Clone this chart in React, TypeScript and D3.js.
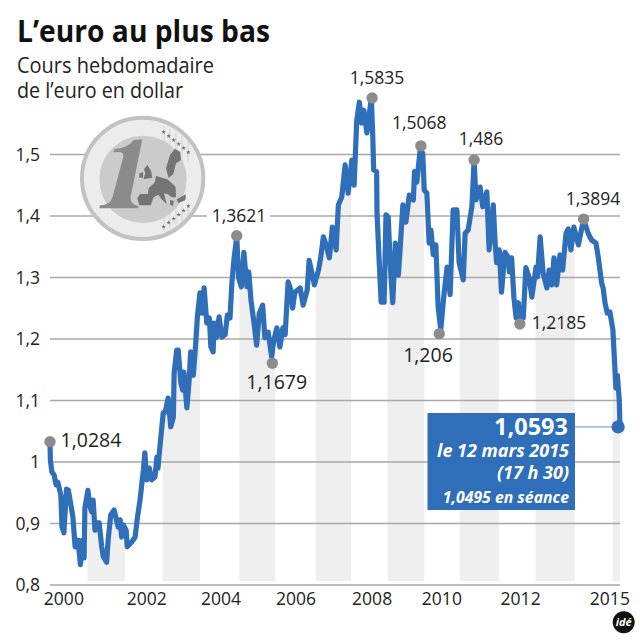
import React from "react";
import * as d3 from "d3";

const yearsAt = [2000.00,2000.01,2000.05,2000.11,2000.16,2000.21,2000.27,2000.29,2000.32,2000.37,2000.44,2000.49,2000.61,2000.67,2000.75,2000.81,2000.87,2000.91,2000.93,2001.01,2001.07,2001.11,2001.15,2001.20,2001.25,2001.31,2001.38,2001.42,2001.51,2001.55,2001.62,2001.71,2001.76,2001.82,2001.87,2001.91,2001.95,2002.03,2002.06,2002.18,2002.27,2002.33,2002.40,2002.49,2002.53,2002.58,2002.65,2002.71,2002.80,2002.85,2002.88,2002.93,
2003.02,2003.07,2003.15,2003.22,2003.29,2003.31,2003.38,2003.42,2003.49,2003.54,2003.57,2003.65,2003.71,2003.75,2003.82,2003.87,2003.93,2004.00,2004.05,2004.11,2004.18,2004.25,2004.29,2004.35,2004.37,2004.43,2004.51,2004.58,2004.67,2004.73,2004.80,2004.85,2004.91,2004.98,
2005.03,2005.10,2005.17,2005.25,2005.30,2005.36,2005.44,2005.51,2005.58,2005.67,2005.73,2005.82,2005.91,2005.97,2006.05,2006.13,2006.21,2006.27,2006.35,2006.42,2006.47,2006.53,2006.67,2006.75,2006.86,2006.91,2006.98,
2007.05,2007.16,2007.22,2007.29,2007.36,2007.45,2007.53,2007.63,2007.69,2007.78,2007.87,2007.95,2008.05,2008.11,2008.18,2008.25,2008.31,2008.37,2008.45,2008.57,2008.61,2008.63,2008.71,2008.72,2008.78,2008.83,2008.91,2008.96,
2009.02,2009.07,2009.14,2009.21,2009.29,2009.33,2009.41,2009.49,2009.58,2009.69,2009.72,2009.78,2009.87,2009.94,2009.98,2010.05,2010.11,2010.16,2010.22,2010.29,2010.35,2010.42,2010.51,2010.59,2010.67,2010.75,2010.85,2010.91,
2011.02,2011.07,2011.15,2011.25,2011.31,2011.36,2011.47,2011.54,2011.65,2011.71,2011.82,2011.87,2011.91,2011.98,2012.04,2012.13,2012.22,2012.25,2012.31,2012.37,2012.43,2012.49,2012.53,2012.62,2012.69,2012.78,2012.85,2012.96,
2013.00,2013.07,2013.15,2013.25,2013.31,2013.38,2013.44,2013.51,2013.60,2013.67,2013.76,2013.82,2013.89,2013.97,2014.09,2014.18,2014.24,2014.35,2014.44,2014.56,2014.62,2014.71,2014.75,2014.80,2014.86,2014.93,2015.01,2015.07,2015.09,2015.13,2015.18,2015.20];

const rates = [1.0325,1.003,.984,.979,.963,.967,.951,.945,.894,.885,.956,.954,.911,.862,.873,.833,.873,.844,.925,.954,.927,.919,.938,.889,.901,.901,.862,.846,.837,.873,.914,.922,.909,.894,.906,.878,.898,.889,.862,.870,.878,.909,.938,.987,1.015,.971,.990,.971,.976,1.008,.990,1.024,
1.080,1.081,1.104,1.057,1.073,1.145,1.182,1.182,1.128,1.117,1.146,1.088,1.133,1.179,1.141,1.179,1.236,1.275,1.242,1.283,1.226,1.234,1.187,1.179,1.226,1.202,1.236,1.203,1.207,1.239,1.234,1.291,1.332,1.366,
1.299,1.285,1.341,1.285,1.309,1.263,1.226,1.190,1.242,1.255,1.202,1.211,1.171,1.198,1.218,1.187,1.218,1.207,1.293,1.280,1.250,1.276,1.283,1.255,1.280,1.328,1.309,
1.288,1.312,1.333,1.366,1.353,1.332,1.382,1.345,1.418,1.431,1.483,1.437,1.491,1.450,1.556,1.585,1.551,1.572,1.535,1.592,1.524,1.475,1.472,1.405,1.324,1.260,1.260,1.402,
1.398,1.324,1.259,1.356,1.304,1.340,1.418,1.390,1.434,1.426,1.472,1.455,1.507,1.502,1.442,1.437,1.356,1.377,1.337,1.353,1.252,1.215,1.275,1.317,1.272,1.410,1.410,1.324,
1.296,1.372,1.377,1.415,1.491,1.426,1.447,1.415,1.439,1.345,1.418,1.356,1.324,1.345,1.276,1.341,1.333,1.309,1.332,1.268,1.234,1.259,1.231,1.234,1.316,1.299,1.268,1.317,
1.301,1.366,1.307,1.283,1.312,1.288,1.332,1.288,1.337,1.312,1.372,1.379,1.345,1.382,1.353,1.380,1.393,1.372,1.361,1.356,1.333,1.291,1.283,1.259,1.242,1.244,1.215,1.145,1.120,1.141,1.101,1.057];

const bandStarts = [2001.0,2003.0,2005.05,2007.09,2009.0,2010.93,2012.95,2015.0];
const bandEnds = [2002.0,2004.0,2006.0,2008.03,2009.98,2011.97,2013.99,2015.2];

const gridValues = [0.8,0.9,1,1.1,1.2,1.3,1.4,1.5];
const gridLabels = ["0,8","0,9","1","1,1","1,2","1,3","1,4","1,5"];
const xTickAt = [2000.37,2002.58,2004.56,2006.56,2008.59,2010.45,2012.55,2014.93];
const xTickLabels = ["2000","2002","2004","2006","2008","2010","2012","2015"];

const dotYears = [2000.0,2004.98,2005.93,2008.59,2009.89,2010.38,2011.31,2012.53,2014.23];
const dotRates = [1.033,1.368,1.1605,1.592,1.514,1.2086,1.491,1.2244,1.395];
const calloutTexts = ["1,0284","1,3621","1,1679","1,5835","1,5068","1,206","1,486","1,2185","1,3894"];

const ff = "'Open Sans', sans-serif";
const width = 640;
const height = 640;

const x = d3.scaleLinear().domain([2000, 2015.2]).range([50, 620]);
const y = d3.scaleLinear().domain([0.8, 1.5]).range([585, 154.5]);

const pts = yearsAt.map((t, i) => [t, rates[i]] as [number, number]);
const linePath = d3.line<[number, number]>().x((d) => x(d[0])).y((d) => y(d[1]))(pts) as string;
const areaPath = d3
  .area<[number, number]>()
  .x((d) => x(d[0]))
  .y0(585)
  .y1((d) => y(d[1]))(pts) as string;

// label layout: [centre x, centre y, size]
const calloutLayout: [number, number, number][] = [
  [91, 440, 19.5],
  [239, 215.7, 17.5],
  [276.7, 381.7, 19.5],
  [377, 78, 17.5],
  [419.3, 122.7, 17.5],
  [428, 355, 19.5],
  [481, 139, 17.5],
  [559, 322.7, 17.5],
  [593, 199, 17.5],
];

const stars: [number, number][] = [
  [311, 96],[326, 108],[341, 120],[356, 132],[371, 144],[385, 157],
  [311, 380],[326, 368],[341, 356],[356, 344],[371, 332],[385, 318],
];

function Coin() {
  const star = d3.symbol().type(d3.symbolStar).size(55)() as string;
  return (
    <g transform="translate(60,100) scale(0.3333)">
      <circle cx={248} cy={235} r={182} fill="#ececec" stroke="#c2c2c2" strokeWidth={12} />
      <circle cx={249} cy={238} r={131} fill="#cbcbcb" />
      <g stroke="#cacaca" strokeWidth={2.5}>
        {[312, 330, 348, 366, 384].map((v) => (
          <g key={v}>
            <line x1={v} x2={v} y1={78 + (v - 312) * 0.55} y2={150 + (v - 312) * 0.5} />
            <line x1={v} x2={v} y1={325 - (v - 312) * 0.1} y2={396 - (v - 312) * 0.55} />
          </g>
        ))}
      </g>
      <path
        d="M247,118 L212,290 Q208,312 236,318 L234,325 L118,325 L120,316 Q150,316 158,290 L190,170 Q192,156 176,156 L160,157 L163,147 Q200,146 222,120 Z"
        fill="#8b8b8b"
      />
      <g fill="#747474">
        <path d="M345,146 L361,156 L363,180 L348,190 L340,222 L326,234 L318,205 L330,165 Z" />
        <path d="M288,228 L322,238 L347,260 L348,292 L336,292 L322,282 L312,280 L320,312 L304,297 L295,284 L281,292 L272,316 L238,316 L232,295 L240,282 L264,282 L266,264 L284,248 Z" />
        <path d="M262,195 L273,212 L277,233 L250,238 L256,220 L252,208 Z" />
        <path d="M238,220 L250,217 L249,233 L238,233 Z" />
        <path d="M350,298 L378,283 L376,301 L355,309 Z" />
        <path d="M330,300 L341,302 L339,319 L330,313 Z" />
      </g>
      {stars.map((s, i) => (
        <path key={i} d={star} transform={`translate(${s[0]},${s[1]})`} fill="#6a6a6a" />
      ))}
    </g>
  );
}

export default function App() {
  return (
    <svg
      width={width}
      height={height}
      viewBox="0 0 640 640"
      style={{ position: "absolute", left: 0, top: 0, background: "#fff" }}
      fontFamily={ff}
    >
      <defs>
        <clipPath id="under">
          <path d={areaPath} />
        </clipPath>
      </defs>

      <text x={17} y={41.7} fontSize={30.5} fontWeight={700} fill="#111" textLength={253} lengthAdjust="spacingAndGlyphs">
        L’euro au plus bas
      </text>
      <text x={17} y={72.7} fontSize={21.5} fill="#222" textLength={197} lengthAdjust="spacingAndGlyphs">
        Cours hebdomadaire
      </text>
      <text x={17} y={97.7} fontSize={21.5} fill="#222" textLength={166} lengthAdjust="spacingAndGlyphs">
        de l’euro en dollar
      </text>

      <g clipPath="url(#under)">
        {bandStarts.map((b, i) => (
          <rect key={b} x={x(b)} width={x(bandEnds[i]) - x(b)} y={90} height={581 - 90} fill="#efefef" />
        ))}
      </g>

      {gridValues.map((v, i) => (
        <g key={v}>
          <line x1={50} x2={620} y1={y(v)} y2={y(v)} stroke="#a9a9a9" strokeWidth={1.5} />
          <text x={40} y={y(v) + 6} textAnchor="end" fontSize={17.5} fill="#222">
            {gridLabels[i]}
          </text>
        </g>
      ))}

      <Coin />
      <rect x={207} y={208} width={63} height={16} fill="#fff" />

      {xTickAt.map((t, i) => (
        <text key={t} x={x(t)} y={604.5} textAnchor="middle" fontSize={17.5} fill="#222">
          {xTickLabels[i]}
        </text>
      ))}

      <path d={linePath} fill="none" stroke="#2f6eb8" strokeWidth={5.2} strokeLinejoin="round" strokeLinecap="round" />

      {dotYears.map((t, i) => (
        <circle key={t} cx={x(t)} cy={y(dotRates[i])} r={5.7} fill="#8c8c8c" />
      ))}

      {calloutTexts.map((s, i) => (
        <text
          key={s}
          x={calloutLayout[i][0]}
          y={calloutLayout[i][1] + calloutLayout[i][2] * 0.36}
          textAnchor="middle"
          fontSize={calloutLayout[i][2]}
          fill="#222"
        >
          {s}
        </text>
      ))}

      <line x1={575} x2={x(2015.2)} y1={y(1.057)} y2={y(1.057)} stroke="#5b92cf" strokeWidth={1} />
      <circle cx={x(2015.15)} cy={y(1.057)} r={6.6} fill="#2f6eb8" />

      <rect x={427.5} y={413} width={147.5} height={97} fill="#2f6eb8" />
      <g fill="#fff" textAnchor="end" fontWeight={700}>
        <text x={568} y={435} fontSize={23.5}>1,0593</text>
        <text x={569} y={457} fontSize={18} fontStyle="italic">le 12 mars 2015</text>
        <text x={569} y={479} fontSize={18} fontStyle="italic">(17 h 30)</text>
        <text x={569} y={502.5} fontSize={15.8} fontStyle="italic">1,0495 en séance</text>
      </g>

      <circle cx={623.7} cy={622.3} r={11} fill="#111" />
      <text x={623.7} y={626} textAnchor="middle" fontSize={11} fontWeight={700} fontStyle="italic" fill="#fff">
        idé
      </text>
    </svg>
  );
}
